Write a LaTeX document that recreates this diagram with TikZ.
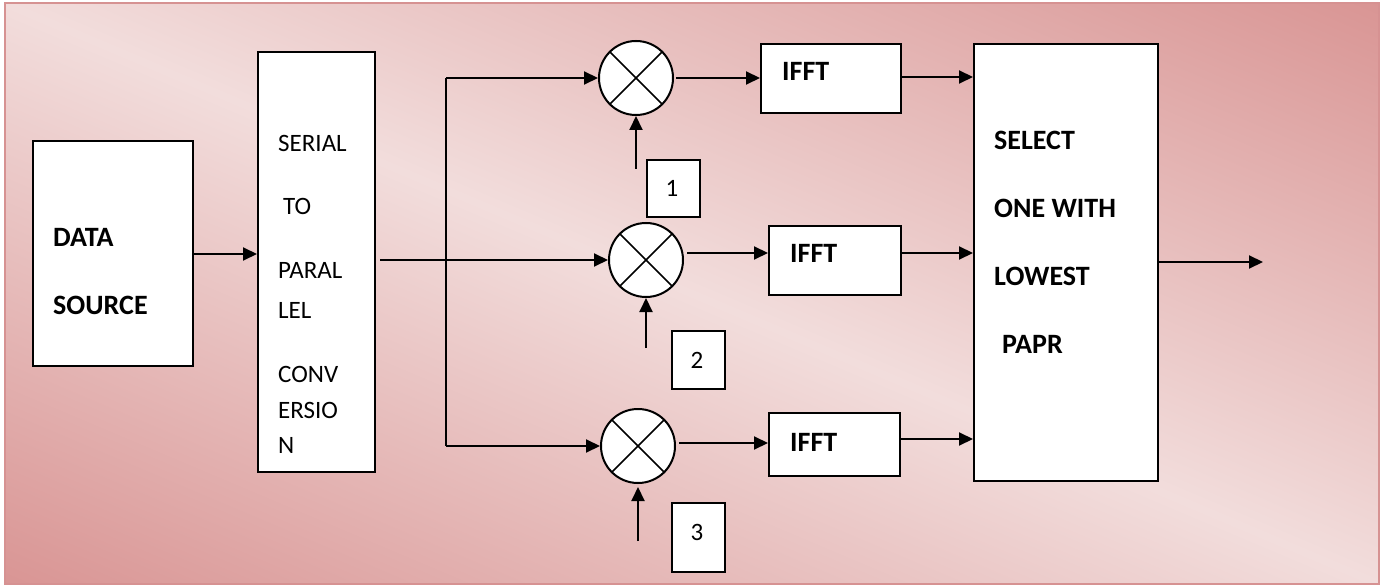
\documentclass[tikz,border=0pt]{standalone}
\usepackage{fontspec}
\setmainfont{Carlito}
\usetikzlibrary{arrows.meta}

\definecolor{bgdark}{RGB}{217,149,148}
\definecolor{bglight}{RGB}{242,221,220}
\definecolor{bgedge}{RGB}{214,146,146}

% two-sided gradient: dark at both ends, light in the middle
\pgfdeclarehorizontalshading{bgshade}{100bp}{%
  color(0bp)=(bgdark); color(27.7bp)=(bgdark); color(50bp)=(bglight);
  color(72.3bp)=(bgdark); color(100bp)=(bgdark)}

\tikzset{
  blk/.style={draw, line width=2pt, fill=white, inner sep=0pt, anchor=north west},
  mult/.style={draw, line width=2pt, fill=white, circle, minimum size=74pt, inner sep=0pt},
  arr/.style={line width=2pt, -{Triangle[length=14pt,width=13pt]}},
  wire/.style={line width=2pt},
  bold/.style={font=\fontsize{28}{30}\selectfont\bfseries, anchor=base west, inner sep=0pt},
  plain/.style={font=\fontsize{25}{27}\selectfont, anchor=base west, inner sep=0pt},
  digit/.style={font=\fontsize{25}{27}\selectfont, anchor=base, inner sep=0pt},
}

\begin{document}
\begin{tikzpicture}[x=1pt, y=-1pt]
\useasboundingbox (0,0) rectangle (1381,585);

% background panel: gradient runs across the panel diagonal
\begin{scope}
  \clip (5,3) rectangle (1379,584);
  \begin{scope}[transform canvas={shift={(692,293.5)}, rotate=67.1}]
    \shade[shading=bgshade] (-600,-800) rectangle (600,800);
  \end{scope}
\end{scope}
\draw[bgedge, line width=1.5pt] (5,3) rectangle (1379,584);

% blocks
\node[blk, minimum width=160pt, minimum height=225pt] (src) at (32,140) {};
\node[blk, minimum width=117pt, minimum height=420pt] (sp)  at (257,51) {};
\node[blk, minimum width=140pt, minimum height=69pt]  (i1)  at (760,43) {};
\node[blk, minimum width=132pt, minimum height=69pt]  (i2)  at (768,225) {};
\node[blk, minimum width=131pt, minimum height=63pt]  (i3)  at (768,412) {};
\node[blk, minimum width=184pt, minimum height=437pt] (sel) at (973,43) {};
\node[blk, minimum width=53pt, minimum height=57pt]   (n1)  at (646,159) {};
\node[blk, minimum width=53pt, minimum height=58pt]   (n2)  at (671,330) {};
\node[blk, minimum width=53pt, minimum height=69pt]   (n3)  at (671,502) {};

% multipliers
\node[mult] (c1) at (636,78) {};
\node[mult] (c2) at (646,260) {};
\node[mult] (c3) at (638,446) {};
\foreach \c in {c1,c2,c3}{
  \draw[line width=1.6pt] (\c.45) -- (\c.225);
  \draw[line width=1.6pt] (\c.135) -- (\c.315);
}

% labels
\node[bold] (tdata) at (53,247) {DATA};
\node[bold] (tsrc)  at (53,315) {SOURCE};

\node[plain] (ts1) at (278,152) {SERIAL};
\node[plain] (ts2) at (283,215) {TO};
\node[plain] (ts3) at (278,279) {PARAL};
\node[plain] (ts4) at (278,318) {LEL};
\node[plain] (ts5) at (278,382) {CONV};
\node[plain] (ts6) at (278,418) {ERSIO};
\node[plain] (ts7) at (278,453) {N};

\node[bold] (tf1) at (782,81)  {IFFT};
\node[bold] (tf2) at (790,263) {IFFT};
\node[bold] (tf3) at (790,451) {IFFT};

\node[bold] (tl1) at (994,150) {SELECT};
\node[bold] (tl2) at (994,218) {ONE WITH};
\node[bold] (tl3) at (994,286) {LOWEST};
\node[bold] (tl4) at (1002,353) {PAPR};

\node[digit] (d1) at (672,197) {1};
\node[digit] (d2) at (697,368) {2};
\node[digit] (d3) at (697,540) {3};

% connectors
\coordinate (jtop) at (446,78);
\coordinate (jbot) at (446,446);
\coordinate (out)  at (1263,262);
\coordinate (u1) at (c1.south |- 0,169);
\coordinate (u2) at (c2.south |- 0,348);
\coordinate (u3) at (c3.south |- 0,541);

\draw[arr] (src.east |- 0,254) -- (sp.west |- 0,254);
\draw[arr] ([xshift=4pt]sp.east |- c2.west) -- (c2.west);
\draw[wire] (jtop) -- (jbot);
\draw[arr] (jtop) -- (c1.west);
\draw[arr] (jbot) -- (c3.west);

\draw[arr] ([xshift=2pt]c1.east) -- (i1.west |- c1.east);
\draw[arr] ([xshift=3pt]c2.east |- 0,253) -- (i2.west |- 0,253);
\draw[arr] ([xshift=3pt]c3.east |- 0,443) -- (i3.west |- 0,443);

\draw[arr] (i1.east |- 0,77)  -- (sel.west |- 0,77);
\draw[arr] (i2.east |- 0,253) -- (sel.west |- 0,253);
\draw[arr] (i3.east |- 0,439) -- (sel.west |- 0,439);
\draw[arr] (sel.east |- out) -- (out);

\draw[arr] (u1) -- (c1.south);
\draw[arr] (u2) -- (c2.south);
\draw[arr] (u3) -- ([yshift=-3pt]c3.south);
\end{tikzpicture}
\end{document}
